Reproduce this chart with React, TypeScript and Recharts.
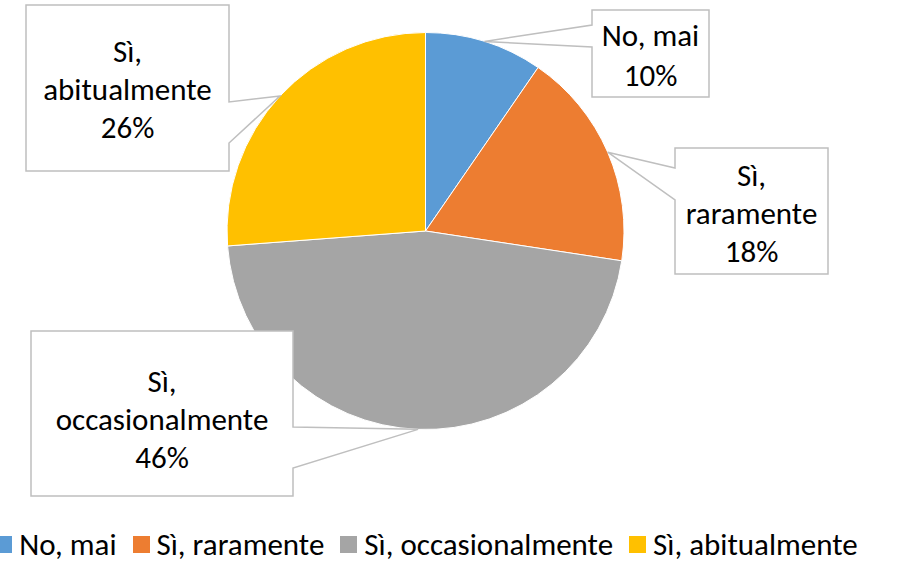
import React from 'react';
import { PieChart, Pie, Cell, Legend } from 'recharts';

const categories = ['No, mai', 'Sì, raramente', 'Sì, occasionalmente', 'Sì, abitualmente'];
const values = [9.6, 17.8, 46.4, 26.2];
const colors = ['#5B9BD5', '#ED7D31', '#A5A5A5', '#FFC000'];

const data = categories.map((name, i) => ({ name, value: values[i] }));
const total = values.reduce((a, b) => a + b, 0);

const FONT = 'Carlito, Calibri, Lato, sans-serif';
const FONT_SIZE = 31;
const LINE_GAP = 38;

// callout box layout (positions only)
const callouts = [
  { x: 592, y: 10, w: 117, h: 87, side: 'left', p1: 25, p2: 47, wrap: false, base: 46 },
  { x: 675, y: 148, w: 153, h: 126, side: 'left', p1: 168, p2: 200, wrap: true, base: 186 },
  { x: 31, y: 331, w: 262, h: 165, side: 'right', p1: 427, p2: 468, wrap: true, base: 392 },
  { x: 26, y: 5, w: 203, h: 166, side: 'right', p1: 102, p2: 143, wrap: true, base: 62 },
];

const renderLabel = (props: any) => {
  const { cx, cy, midAngle, outerRadius, index } = props;
  const c = callouts[index];
  const rad = Math.PI / 180;
  const tx = cx + outerRadius * Math.cos(-midAngle * rad);
  const ty = cy + outerRadius * Math.sin(-midAngle * rad);
  const { x, y, w, h, p1, p2 } = c;
  const d =
    c.side === 'left'
      ? `M${x},${y} H${x + w} V${y + h} H${x} V${p2} L${tx},${ty} L${x},${p1} Z`
      : `M${x},${y} H${x + w} V${p1} L${tx},${ty} L${x + w},${p2} V${y + h} H${x} Z`;
  const name = categories[index];
  const pct = Math.round((values[index] / total) * 100) + '%';
  let lines: string[];
  if (c.wrap) {
    const k = name.indexOf(', ');
    lines = [name.slice(0, k + 1), name.slice(k + 2), pct];
  } else {
    lines = [name, pct];
  }
  const gap = c.wrap ? LINE_GAP : 40;
  return (
    <g>
      <path d={d} fill="#fff" stroke="#BFBFBF" strokeWidth={1.5} />
      {lines.map((ln, i) => (
        <text
          key={i}
          x={x + w / 2}
          y={c.base + i * gap}
          textAnchor="middle"
          fontFamily={FONT}
          fontSize={FONT_SIZE}
          fill="#000"
        >
          {ln}
        </text>
      ))}
    </g>
  );
};

const renderLegend = () => (
  <div
    style={{
      display: 'flex',
      justifyContent: 'center',
      alignItems: 'center',
      fontFamily: FONT,
      fontSize: FONT_SIZE,
      color: '#000',
      whiteSpace: 'nowrap',
      height: 38,
    }}
  >
    {categories.map((c, i) => (
      <div key={c} style={{ display: 'flex', alignItems: 'center', marginRight: i < categories.length - 1 ? 16 : 0 }}>
        <span style={{ width: 17, height: 17, background: colors[i], marginRight: 7, display: 'inline-block' }} />
        <span>{c}</span>
      </div>
    ))}
  </div>
);

export default function App() {
  return (
    <div style={{ position: 'absolute', left: 0, top: 0, width: 897, height: 562, background: '#fff' }}>
      <PieChart width={897} height={562} margin={{ top: 0, right: 0, bottom: 0, left: 0 }}>
        <Pie
          data={data}
          dataKey="value"
          nameKey="name"
          cx={425.5}
          cy={231}
          outerRadius={198.5}
          startAngle={90}
          endAngle={-270}
          stroke="#fff"
          strokeWidth={1}
          label={renderLabel}
          labelLine={false}
          isAnimationActive={false}
        >
          {data.map((d, i) => (
            <Cell key={d.name} fill={colors[i]} />
          ))}
        </Pie>
        <Legend
          content={renderLegend}
          wrapperStyle={{ position: 'absolute', top: 525, left: -10, width: 873, height: 38 }}
        />
      </PieChart>
    </div>
  );
}
